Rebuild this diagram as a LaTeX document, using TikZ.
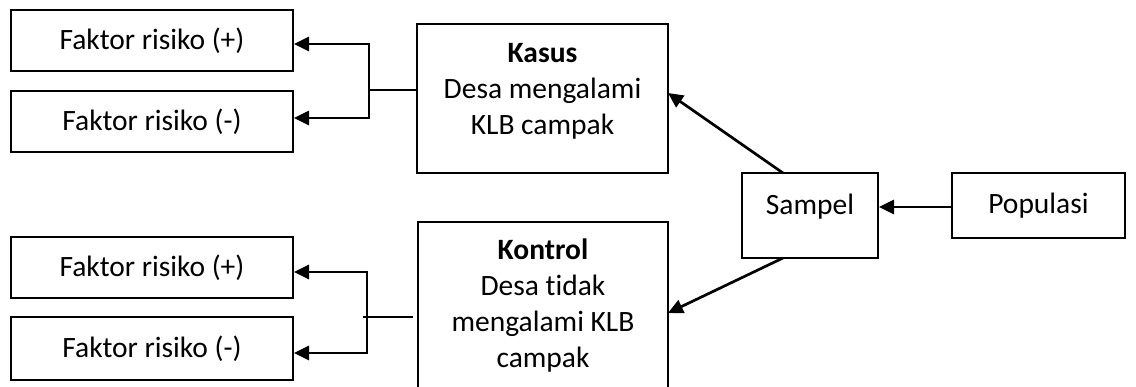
\documentclass[tikz,border=0pt]{standalone}
\usepackage{fontspec}
\setmainfont[Ligatures=NoCommon]{Carlito}
\usetikzlibrary{arrows.meta}
\begin{document}
\begin{tikzpicture}[x=1pt,y=-1pt,
  box/.style={draw,line width=2pt,inner sep=0pt,font=\fontsize{29.5pt}{36pt}\selectfont},
  txt/.style={align=center,inner sep=0pt,font=\fontsize{29.5pt}{36pt}\selectfont},
  arr/.style={line width=2.7pt,-{Triangle[length=15pt,width=14pt]}},
  ln/.style={line width=1.7pt}]
\useasboundingbox (0,0) rectangle (1136,387);
% boxes
\node[box,minimum width=282pt,minimum height=61pt] (fr1) at (152,40.5) {Faktor risiko (+)};
\node[box,minimum width=282pt,minimum height=61pt] (fr2) at (152,121.5) {Faktor risiko (-)};
\node[box,minimum width=282pt,minimum height=61pt] (fr3) at (152,267.5) {Faktor risiko (+)};
\node[box,minimum width=282pt,minimum height=63pt] (fr4) at (152,348.5) {Faktor risiko (-)};
\node[box,minimum width=251pt,minimum height=149pt] (kasus) at (542.5,98.5) {};
\node[txt] (kasustxt) at (542.5,91) {\textbf{Kasus}\\Desa mengalami\\KLB campak};
\node[box,minimum width=250pt,minimum height=178pt] (kontrol) at (543,311) {};
\node[txt] (kontroltxt) at (543,306) {\textbf{Kontrol}\\Desa tidak\\mengalami KLB\\campak};
\node[box,minimum width=136pt,minimum height=85pt] (sampel) at (810,215.5) {};
\node[txt] (sampeltxt) at (810,207) {Sampel};
\node[box,minimum width=173pt,minimum height=65pt] (populasi) at (1038.5,205.5) {Populasi};
% connectors
\draw[arr] (populasi.west |- 0,207) -- (sampel.east |- 0,207);
\coordinate (s1) at (783,173);
\coordinate (s2) at (783,258);
\coordinate (k1) at (668,93);
\coordinate (k2) at (668,313);
\draw[arr] (s1) -- (k1);
\draw[arr] (s2) -- (k2);
% top bracket
\coordinate (j1) at (369,90);
\draw[ln] (kasus.west |- j1) -- (j1);
\draw[arr] (j1) |- (fr1.east |- 0,44);
\draw[arr] (j1) |- (fr2.east |- 0,118);
% bottom bracket
\coordinate (j2) at (367,317);
\coordinate (j3) at (363,317);
\coordinate (j4) at (413,317);
\draw[ln] (j4) -- (j3);
\draw[arr] (j2) |- (fr3.east |- 0,272);
\draw[arr] (j2) |- (fr4.east |- 0,353);
\end{tikzpicture}
\end{document}
